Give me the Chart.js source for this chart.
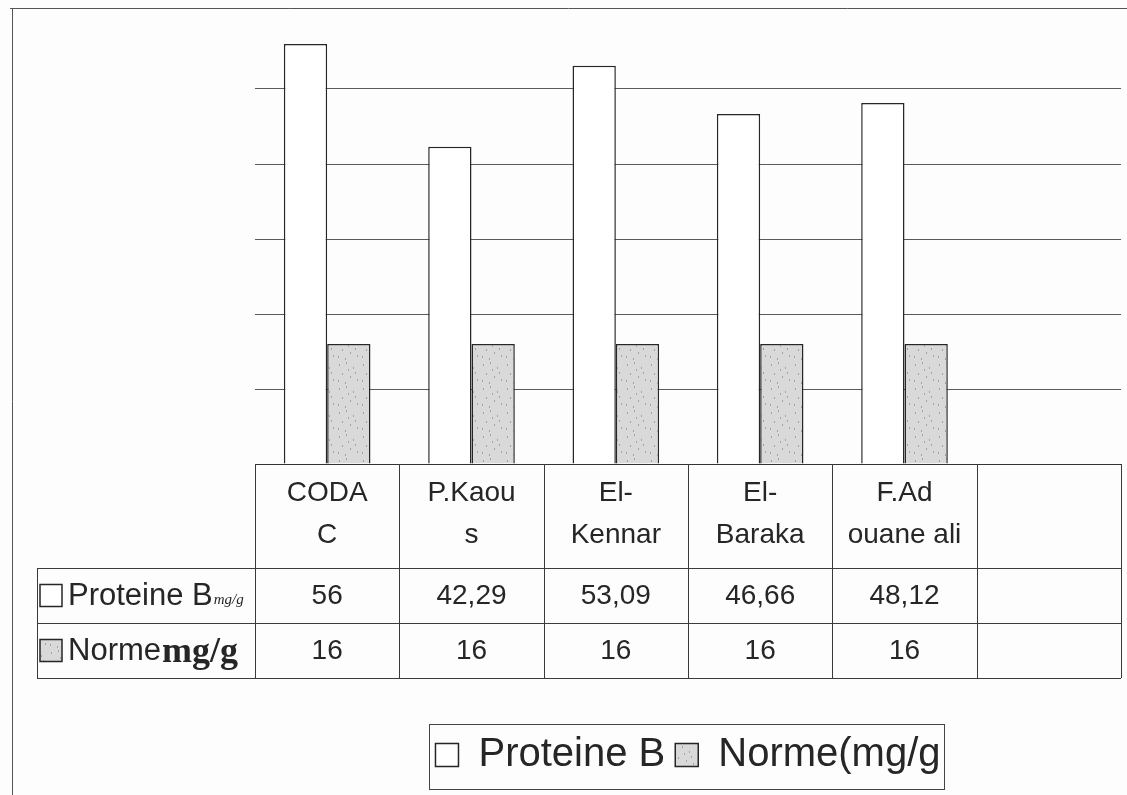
<!DOCTYPE html>
<html lang="fr">
<head>
  <meta charset="UTF-8" />
  <title>Proteine B / Norme</title>
  <script src="https://cdn.jsdelivr.net/npm/chart.js"></script>
  <style>
    html, body { margin: 0; padding: 0; background: #fff; }
    #wrap { width: 1127px; height: 795px; }
  </style>
</head>
<body>
  <div id="wrap"><canvas id="chart" width="1127" height="795"></canvas></div>
  <script>
    // data
    const categories = [['CODA', 'C'], ['P.Kaou', 's'], ['El-', 'Kennar'], ['El-', 'Baraka'], ['F.Ad', 'ouane ali'], ''];
    const proteineB = [56, 42.29, 53.09, 46.66, 48.12, null];
    const norme = [16, 16, 16, 16, 16, null];
    const yTicks = [0, 10, 20, 30, 40, 50, 60];
    const seriesNames = ['Proteine B', 'Norme(mg/g'];

    const SANS = '"Liberation Sans", Arial, sans-serif';
    const SERIF = '"Liberation Serif", "Times New Roman", serif';
    const INK = '#262626';

    // speckled grey fill like the scanned Excel pattern
    function speckle() {
      const c = document.createElement('canvas');
      c.width = 24; c.height = 24;
      const g = c.getContext('2d');
      g.fillStyle = '#d9d9d9';
      g.fillRect(0, 0, 24, 24);
      g.fillStyle = '#a4a4a4';
      [[3, 4], [10, 2], [17, 7], [6, 13], [14, 16], [21, 19], [2, 20], [19, 12], [9, 22], [12, 9]]
        .forEach(([px, py]) => g.fillRect(px, py, 1, 2));
      return g.createPattern(c, 'repeat');
    }
    const grey = speckle();

    const fmt = v => (v === null ? '' : String(v).replace('.', ','));

    const tablePlugin = {
      id: 'dataTable',
      beforeDraw(chart) {
        const ctx = chart.ctx;
        ctx.save();
        ctx.fillStyle = '#fdfdfd';
        ctx.fillRect(0, 0, chart.width, chart.height);
        // outer frame of the scan
        ctx.strokeStyle = '#555';
        ctx.lineWidth = 1;
        ctx.beginPath();
        ctx.moveTo(10, 8.5); ctx.lineTo(chart.width, 8.5);
        ctx.moveTo(12.5, 8); ctx.lineTo(12.5, chart.height);
        ctx.stroke();
        ctx.restore();
      },
      afterDraw(chart) {
        const { ctx, scales: { x }, chartArea } = chart;
        const n = categories.length;
        const half = (x.getPixelForValue(1) - x.getPixelForValue(0)) / 2;
        const edges = [];
        for (let i = 0; i < n; i++) edges.push(x.getPixelForValue(i) - half);
        edges.push(x.getPixelForValue(n - 1) + half);

        const top = chartArea.bottom;
        const r1 = top + 104, r2 = r1 + 55, r3 = r2 + 55;
        const left = 37, right = edges[n];

        ctx.save();
        ctx.strokeStyle = '#3a3a3a';
        ctx.lineWidth = 1;
        ctx.beginPath();
        edges.forEach(e => { ctx.moveTo(Math.round(e) + 0.5, top); ctx.lineTo(Math.round(e) + 0.5, r3); });
        [r1, r2, r3].forEach(r => { ctx.moveTo(left, r + 0.5); ctx.lineTo(right, r + 0.5); });
        ctx.moveTo(left + 0.5, r1); ctx.lineTo(left + 0.5, r3);
        ctx.stroke();

        // values
        ctx.fillStyle = INK;
        ctx.font = '28px ' + SANS;
        ctx.textAlign = 'center';
        ctx.textBaseline = 'middle';
        const rows = [proteineB, norme];
        const mids = [(r1 + r2) / 2, (r2 + r3) / 2];
        rows.forEach((vals, ri) => {
          vals.forEach((v, i) => ctx.fillText(fmt(v), x.getPixelForValue(i), mids[ri] + 1));
        });

        // row headers with legend keys
        chart.data.datasets.forEach((ds, ri) => {
          const cy = mids[ri];
          ctx.fillStyle = ds.backgroundColor;
          ctx.fillRect(40, cy - 11, 22, 22);
          ctx.strokeStyle = INK;
          ctx.lineWidth = 1.5;
          ctx.strokeRect(40, cy - 11, 22, 22);
          ctx.fillStyle = INK;
          ctx.textAlign = 'left';
          ctx.font = '31px ' + SANS;
          const label = ri === 0 ? 'Proteine B' : 'Norme';
          ctx.fillText(label, 68, cy + 1);
          const w = ctx.measureText(label).width;
          if (ri === 0) {
            ctx.font = 'italic 15px ' + SERIF;
            ctx.fillText('mg/g', 68 + w + 1, cy + 5);
          } else {
            ctx.font = 'bold 36px ' + SERIF;
            ctx.fillText('mg/g', 68 + w + 1, cy + 2);
          }
        });

        // box around the legend
        const L = chart.legend;
        const hb = L.legendHitBoxes;
        if (hb && hb.length) {
          const bl = hb[0].left - 6;
          const br = hb[hb.length - 1].left + hb[hb.length - 1].width + 4;
          ctx.strokeStyle = '#444';
          ctx.lineWidth = 1;
          ctx.strokeRect(Math.round(bl) + 0.5, Math.round(L.top) - 0.5, Math.round(br - bl), Math.round(L.bottom - L.top) + 5);
        }
        ctx.restore();
      }
    };

    new Chart(document.getElementById('chart'), {
      type: 'bar',
      data: {
        labels: categories,
        datasets: [
          {
            label: seriesNames[0],
            data: proteineB,
            backgroundColor: '#ffffff',
            borderColor: INK,
            borderWidth: 1.5
          },
          {
            label: seriesNames[1],
            data: norme,
            backgroundColor: grey,
            borderColor: INK,
            borderWidth: 1.5
          }
        ]
      },
      options: {
        responsive: false,
        animation: false,
        layout: { padding: { left: 255, right: 6, top: 14, bottom: 10 } },
        datasets: { bar: { categoryPercentage: 0.6, barPercentage: 1.0 } },
        plugins: {
          tooltip: { enabled: false },
          legend: {
            position: 'bottom',
            labels: {
              color: INK,
              font: { family: SANS, size: 40 },
              boxWidth: 23,
              boxHeight: 23,
              padding: 10
            }
          }
        },
        scales: {
          x: {
            grid: { display: false, drawTicks: false },
            border: { display: false },
            ticks: {
              color: INK,
              padding: 8,
              maxRotation: 0,
              autoSkip: false,
              font: { family: SANS, size: 28, lineHeight: 1.5 }
            },
            afterFit: s => { s.height = 261; }
          },
          y: {
            min: yTicks[0],
            max: yTicks[yTicks.length - 1],
            afterBuildTicks: s => { s.ticks = yTicks.map(v => ({ value: v })); },
            ticks: { display: false, padding: 0 },
            border: { display: false },
            grid: {
              drawTicks: false,
              lineWidth: 1,
              color: c => (c.tick.value === 60 ? 'rgba(0,0,0,0)' : (c.tick.value === 0 ? '#333' : '#5a5a5a'))
            }
          }
        }
      },
      plugins: [tablePlugin]
    });
  </script>
</body>
</html>
